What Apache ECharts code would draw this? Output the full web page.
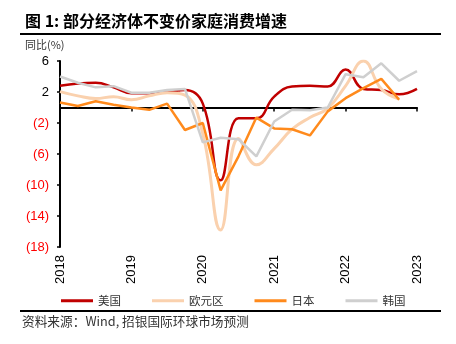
<!DOCTYPE html>
<html>
<head>
<meta charset="utf-8">
<script src="https://cdn.jsdelivr.net/npm/echarts@6/dist/echarts.min.js"></script>
<style>
html,body{margin:0;padding:0;background:#fff;}
#chart{width:456px;height:344px;}
</style>
</head>
<body>
<div id="chart"></div>
<script>
// Quarterly categories 2018Q1 .. 2023Q1
const categories = [
  '2018Q1','2018Q2','2018Q3','2018Q4',
  '2019Q1','2019Q2','2019Q3','2019Q4',
  '2020Q1','2020Q2','2020Q3','2020Q4',
  '2021Q1','2021Q2','2021Q3','2021Q4',
  '2022Q1','2022Q2','2022Q3','2022Q4',
  '2023Q1'
];
const seriesNames = ['美国', '欧元区', '日本', '韩国'];
const usData    = [2.8, 3.1, 3.2, 2.6, 1.85, 1.85, 1.95, 2.25, 0.5, -9.4, -1.4, -1.4, 1.4, 2.7, 2.8, 2.7, 4.9, 2.4, 2.25, 1.7, 2.4];
const euroData  = [2.05, 1.5, 1.15, 1.4, 1.0, 1.5, 1.9, 1.6, -3.4, -15.8, -4.0, -7.4, -5.3, -2.8, -1.3, -0.1, 2.8, 6.0, 2.4, 1.1, null];
const japanData = [0.65, 0.2, 0.8, 0.35, 0.0, -0.3, 0.5, -2.9, -2.0, -10.7, -6.3, -1.3, -2.7, -2.8, -3.6, -0.5, 1.2, 2.5, 3.7, 1.0, null];
const koreaData = [4.0, 3.2, 2.6, 2.75, 1.9, 1.9, 2.25, 2.4, -4.5, -3.9, -4.1, -6.3, -1.8, -0.3, -0.35, 0.0, 4.3, 3.9, 5.7, 3.45, 4.7];
const yTicks = { min: -18, max: 6, interval: 4 };

const colors = ['#C00000', '#FAD1AE', '#FF8A1C', '#CFCFCF'];
const latin = '"Liberation Sans", Arial, sans-serif';
const cjk = '"Noto Sans CJK SC", "Liberation Sans", sans-serif';

const chart = echarts.init(document.getElementById('chart'), null, { renderer: 'canvas' });

function mkSeries(name, data, color, smooth, width) {
  return {
    name: name, type: 'line', data: data,
    xAxisIndex: 0, yAxisIndex: 0,
    smooth: smooth, showSymbol: false, symbol: 'none',
    lineStyle: { color: color, width: width },
    itemStyle: { color: color },
    connectNulls: false,
    animation: false
  };
}

const option = {
  animation: false,
  backgroundColor: '#fff',
  grid: { left: 60, right: 39, top: 61, bottom: 97, containLabel: false },
  legend: {
    left: 56, top: 290,
    itemWidth: 32, itemHeight: 3, itemGap: 31,
    icon: 'rect',
    textStyle: { fontFamily: cjk, fontSize: 11.5, color: '#333', padding: [0, 0, 0, 0] },
    data: seriesNames.map(n => ({ name: n, icon: 'rect' }))
  },
  xAxis: [
    {
      type: 'category', data: categories, boundaryGap: false, position: 'bottom',
      axisLine: { show: true, onZero: true, lineStyle: { color: '#000', width: 2 } },
      axisTick: { show: true, interval: 3, length: 4, inside: false, lineStyle: { color: '#000', width: 1.5 } },
      axisLabel: { show: false },
      splitLine: { show: false },
      z: 3
    },
    {
      type: 'category', data: categories, boundaryGap: false, position: 'bottom',
      axisLine: { show: false, onZero: false },
      axisTick: { show: false },
      axisLabel: {
        show: true, interval: 3, rotate: 90, margin: 8,
        fontFamily: latin, fontSize: 13, color: '#000',
        formatter: v => v.slice(0, 4)
      },
      splitLine: { show: false }
    }
  ],
  yAxis: {
    type: 'value', min: yTicks.min, max: yTicks.max, interval: yTicks.interval,
    axisLine: { show: true, onZero: false, lineStyle: { color: '#000', width: 2 } },
    axisTick: { show: true, length: 3, lineStyle: { color: '#000', width: 1.5 } },
    splitLine: { show: false },
    axisLabel: {
      margin: 11, fontFamily: latin, fontSize: 13,
      formatter: v => v < 0 ? '(' + (-v) + ')' : String(v),
      color: v => (Number(v) < 0 ? '#FF0000' : '#000')
    }
  },
  series: [
    mkSeries(seriesNames[0], usData, colors[0], 0.45, 2.5),
    mkSeries(seriesNames[1], euroData, colors[1], 0.45, 3),
    mkSeries(seriesNames[2], japanData, colors[2], false, 2.5),
    mkSeries(seriesNames[3], koreaData, colors[3], false, 2.5)
  ],
  graphic: [
    { type: 'text', left: 25, top: 13, style: { text: '图 1: 部分经济体不变价家庭消费增速', font: 'bold 16px ' + cjk, fill: '#000' } },
    { type: 'line', shape: { x1: 20, y1: 34, x2: 441, y2: 34 }, style: { stroke: '#000', lineWidth: 2 } },
    { type: 'text', left: 25, top: 39, style: { text: '同比(%)', font: '11px ' + cjk, fill: '#333' } },
    { type: 'line', shape: { x1: 20, y1: 311, x2: 441, y2: 311 }, style: { stroke: '#000', lineWidth: 2 } },
    { type: 'text', left: 22, top: 315, style: { text: '资料来源：Wind, 招银国际环球市场预测', font: '12.7px ' + cjk, fill: '#333' } }
  ]
};
chart.setOption(option);
</script>
</body>
</html>
